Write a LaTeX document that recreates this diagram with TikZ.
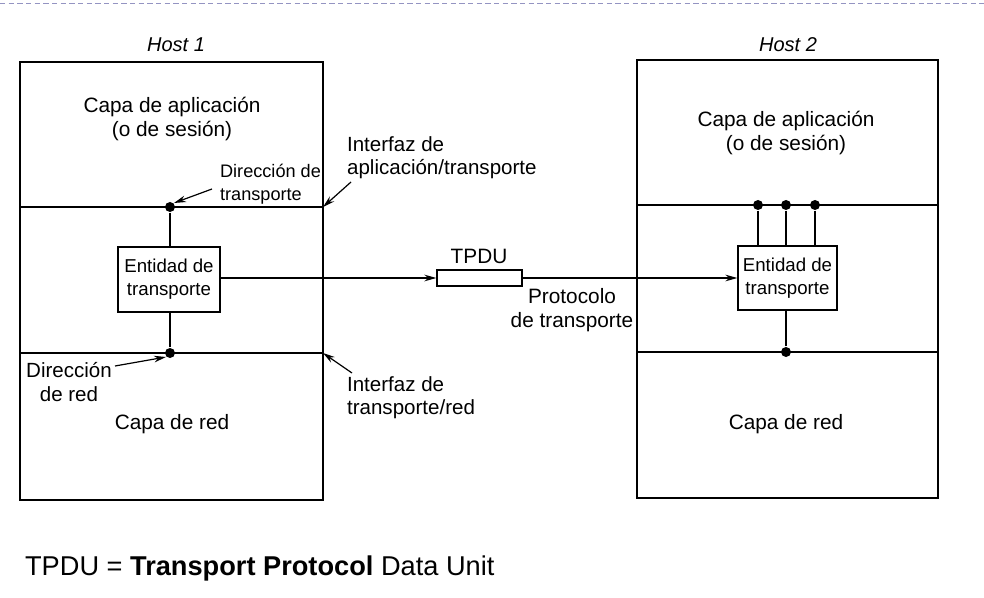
\documentclass[tikz,border=0pt]{standalone}
\usepackage{fontspec}
\setmainfont{Liberation Sans}
\usetikzlibrary{arrows.meta}
\begin{document}
\begin{tikzpicture}[x=0.75pt,y=-0.75pt,
  line width=1pt,
  hostbox/.style={draw, line width=1.1pt, minimum height=328.5pt, inner sep=0pt},
  entbox/.style={draw, line width=1pt, align=center, inner sep=0pt, font=\fontsize{14}{17}\selectfont},
  dotnode/.style={circle, fill=black, inner sep=0pt, minimum size=7.5pt},
  lbl/.style={font=\fontsize{15.6}{18}\selectfont, align=center},
  small/.style={font=\fontsize{13.6}{17}\selectfont, align=left},
  mid/.style={font=\fontsize{15.4}{17.5}\selectfont, align=left},
  arr/.style={-{Stealth[length=9pt,width=5pt]}, line width=0.9pt},
]
\useasboundingbox (0,0) rectangle (984,598);
\draw[color=black!25!blue!40!gray!60, line width=0.7pt, dash pattern=on 4pt off 2.5pt] (0,3) -- (984,3);

% host boxes
\node[hostbox, minimum width=227.25pt] (h1) at (171.5,281) {};
\node[hostbox, minimum width=225.75pt] (h2) at (787.5,279) {};
\node[font=\fontsize{15}{18}\selectfont\itshape] (t1) at (176,45) {Host 1};
\node[font=\fontsize{15}{18}\selectfont\itshape] (t2) at (788,45) {Host 2};

% layer lines
\coordinate (l1a) at (20,207); \coordinate (l1b) at (323,207);
\coordinate (l2a) at (20,353); \coordinate (l2b) at (323,353);
\coordinate (r1a) at (637,205); \coordinate (r1b) at (938,205);
\coordinate (r2a) at (637,352); \coordinate (r2b) at (938,352);
\draw (l1a) -- (l1b);
\draw (l2a) -- (l2b);
\draw (r1a) -- (r1b);
\draw (r2a) -- (r2b);

% layer texts
\node[lbl] (ca1) at (172,119) {Capa de aplicación\\(o de sesión)};
\node[lbl] (ca2) at (786,133) {Capa de aplicación\\(o de sesión)};
\node[lbl] (cr1) at (172,424) {Capa de red};
\node[lbl] (cr2) at (786,424) {Capa de red};

% entities
\node[entbox, minimum width=76.5pt, minimum height=48.75pt] (e1) at (169,279.5) {Entidad de\\transporte};
\node[entbox, minimum width=74.25pt, minimum height=48pt] (e2) at (787.5,278) {Entidad de\\transporte};

% dots left
\node[dotnode] (d1) at (170,207) {};
\node[dotnode] (d2) at (170,353) {};
\draw (d1) -- (d1 |- e1.north);
\draw (d2) -- (d2 |- e1.south);

% dots right
\node[dotnode] (d3) at (758,205) {};
\node[dotnode] (d4) at (786,205) {};
\node[dotnode] (d5) at (815,205) {};
\node[dotnode] (d6) at (786,352) {};
\draw (d3) -- (d3 |- e2.north);
\draw (d4) -- (d4 |- e2.north);
\draw (d5) -- (d5 |- e2.north);
\draw (d6) -- (d6 |- e2.south);

% TPDU
\node[draw, line width=1pt, minimum width=63.75pt, minimum height=12pt, inner sep=0pt] (tp) at (479.5,278) {};
\node[lbl] (tpl) at (479,256) {TPDU};
\draw[arr] (e1.east |- tp.west) -- (tp.west);
\draw[arr] (tp.east) -- (e2.west |- tp.east);
\node[lbl] (prot) at (572,310) {Protocolo\\de transporte};

% labels with arrows
\node[small, anchor=west] (dt) at (215,184) {Dirección de\\transporte};
\coordinate (dta) at (212,189);
\draw[arr] (dta) -- (d1.north east);

\node[mid, anchor=west] (iat) at (342,158) {Interfaz de\\aplicación/transporte};
\coordinate (iata) at (351,182);
\draw[arr] (iata) -- (l1b);

\node[mid, align=center] (dr) at (69,382) {Dirección\\de red};
\coordinate (dra) at (115,366);
\draw[arr] (dra) -- (d2.south west);

\node[mid, anchor=west] (itr) at (342,398) {Interfaz de\\transporte/red};
\coordinate (itra) at (352,373);
\draw[arr] (itra) -- (l2b);

% bottom legend
\node[anchor=west, font=\fontsize{20.4}{24}\selectfont] (leg) at (20,568) {TPDU = \textbf{Transport Protocol} Data Unit};
\end{tikzpicture}
\end{document}
